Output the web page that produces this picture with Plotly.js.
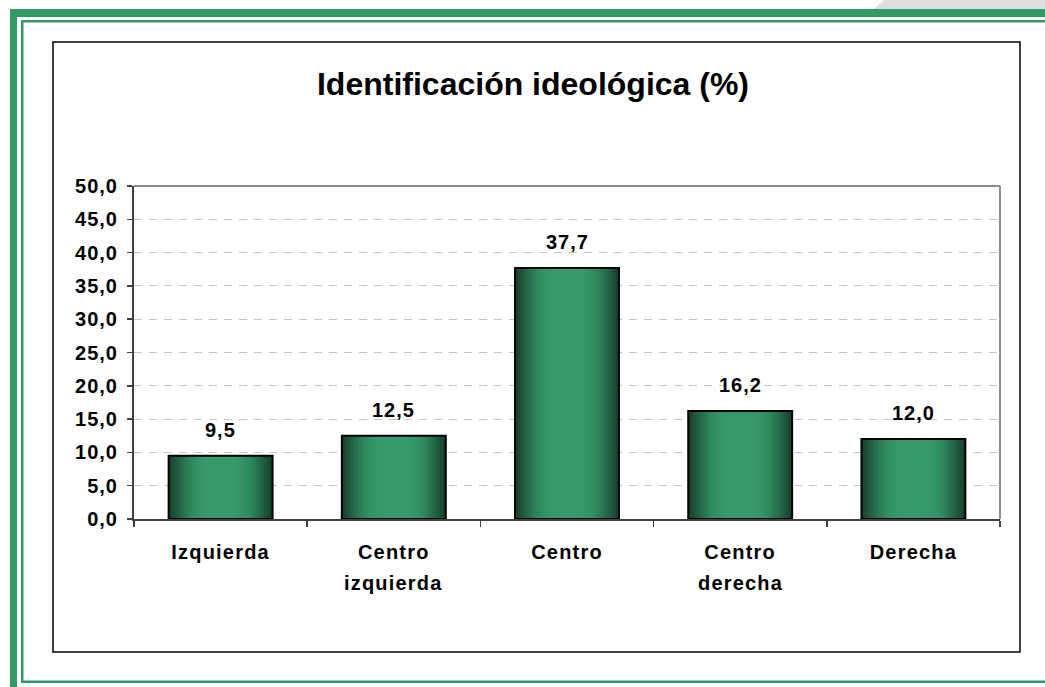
<!DOCTYPE html>
<html>
<head>
<meta charset="utf-8">
<script src="https://cdn.plot.ly/plotly-3.0.1.min.js"></script>
<style>
  html, body { margin: 0; padding: 0; background: #ffffff; }
  #chart { width: 1045px; height: 687px; }
</style>
</head>
<body>
<div id="chart"></div>
<script>
// ---- data ----
const categories = ["Izquierda", "Centro izquierda", "Centro", "Centro derecha", "Derecha"];
const labelLine1 = ["Izquierda", "Centro", "Centro", "Centro", "Derecha"];
const labelLine2 = ["", "izquierda", "", "derecha", ""];
const values = [9.5, 12.5, 37.7, 16.2, 12.0];
const yTickValues = [0, 5, 10, 15, 20, 25, 30, 35, 40, 45, 50];
const chartTitle = "Identificación ideológica (%)";

// ---- geometry helpers (plot area in pixels) ----
const W = 1045, H = 687;
const PL = 134, PR = 1000, PT = 186, PB = 519;
const xp = px => (px - PL) / (PR - PL);
const yp = py => (PB - py) / (PB - PT);

const fmt = v => v.toFixed(1).replace('.', ',');
const sp = (s, ls) => `<span style="letter-spacing:${ls}px">${s}</span>`;
const FONT = 'Liberation Sans, Arial, sans-serif';

// ---- gradient bars built as overlaid layers ----
const BAR_W = 0.6;
const N = 14;
const dark = [24, 66, 45], light = [54, 154, 107];
const traces = [];
for (let i = 0; i < N; i++) {
  const t = i / (N - 1);
  const e = Math.sin(t * Math.PI / 2);
  const c = dark.map((d, k) => Math.round(d + (light[k] - d) * e));
  traces.push({
    type: 'bar', x: categories, y: values,
    width: BAR_W * (1 - 0.72 * t),
    marker: { color: `rgb(${c[0]},${c[1]},${c[2]})`, line: { width: 0 } },
    hoverinfo: 'skip', showlegend: false
  });
}
traces.push({
  type: 'bar', x: categories, y: values, width: BAR_W,
  marker: { color: 'rgba(0,0,0,0)', line: { color: '#000000', width: 2 } },
  hovertemplate: '%{x}: %{y}<extra></extra>', showlegend: false
});

// ---- frame shapes ----
const green = '#339966';
const rectPx = (x0, y0, x1, y1, opts) => Object.assign({
  type: 'rect', xref: 'paper', yref: 'paper',
  x0: xp(x0), x1: xp(x1), y0: yp(y1), y1: yp(y0), layer: 'below'
}, opts);

const shapes = [
  { type: 'path', xref: 'paper', yref: 'paper', layer: 'below',
    path: `M ${xp(874)} ${yp(9)} L ${xp(884)} ${yp(0)} L ${xp(1045)} ${yp(0)} L ${xp(1045)} ${yp(9)} Z`,
    fillcolor: '#dedede', line: { width: 0 } },
  rectPx(10, 9, 1045, 17, { fillcolor: green, line: { width: 0 } }),
  rectPx(10, 9, 17, 687, { fillcolor: green, line: { width: 0 } }),
  rectPx(21, 20, 1045, 22.5, { fillcolor: green, line: { width: 0 } }),
  rectPx(21, 20, 23.5, 683, { fillcolor: green, line: { width: 0 } }),
  rectPx(21, 680.5, 1045, 683, { fillcolor: green, line: { width: 0 } }),
  rectPx(53, 42, 1020, 652, { fillcolor: 'rgba(0,0,0,0)', line: { color: '#000000', width: 1.5 } }),
  { type: 'line', xref: 'paper', yref: 'paper', x0: 0, x1: 1, y0: 1, y1: 1,
    line: { color: '#8c8c8c', width: 2 }, layer: 'below' },
  { type: 'line', xref: 'paper', yref: 'paper', x0: 1, x1: 1, y0: 0, y1: 1,
    line: { color: '#8c8c8c', width: 2 }, layer: 'below' }
];

// ---- value labels ----
const annotations = categories.map((c, i) => ({
  x: c, y: values[i], xref: 'x', yref: 'y',
  text: sp(fmt(values[i]), 1),
  showarrow: false, yanchor: 'middle', yshift: 26,
  font: { family: FONT, size: 20, color: '#000000', weight: 'bold' }
}));
// second line of the category labels
categories.forEach((c, i) => {
  if (!labelLine2[i]) return;
  annotations.push({
    x: c, y: 0, xref: 'x', yref: 'paper',
    text: sp(labelLine2[i], 1.2),
    showarrow: false, yanchor: 'middle', yshift: -64,
    font: { family: FONT, size: 20, color: '#000000', weight: 'bold' }
  });
});

const layout = {
  width: W, height: H,
  margin: { l: PL, r: W - PR, t: PT, b: H - PB, pad: 0 },
  paper_bgcolor: '#ffffff', plot_bgcolor: '#ffffff',
  barmode: 'overlay',
  separators: ',.',
  title: {
    text: chartTitle, xref: 'container', yref: 'container',
    x: 533 / W, y: 1 - 84 / H, xanchor: 'center', yanchor: 'middle',
    font: { family: FONT, size: 32, color: '#000000', weight: 'bold' }
  },
  xaxis: {
    type: 'category', range: [-0.5, 4.5],
    tickmode: 'array', tickvals: categories,
    ticktext: labelLine1.map(s => sp(s, 1.2)),
    tickson: 'boundaries', ticks: 'outside', ticklen: 6, tickwidth: 1.5, tickcolor: '#404040',
    ticklabelstandoff: 14,
    showline: true, linecolor: '#404040', linewidth: 2,
    showgrid: false, zeroline: false,
    tickfont: { family: FONT, size: 20, color: '#000000', weight: 'bold' }
  },
  yaxis: {
    range: [0, 50], tickmode: 'array', tickvals: yTickValues,
    ticktext: yTickValues.map(v => sp(fmt(v), 1)),
    ticks: 'outside', ticklen: 5, tickwidth: 1.5, tickcolor: '#404040',
    ticklabelstandoff: 5,
    showline: true, linecolor: '#404040', linewidth: 2,
    showgrid: true, gridcolor: '#c4c4c4', gridwidth: 1, griddash: '8px,7px',
    zeroline: false,
    tickfont: { family: FONT, size: 20, color: '#000000', weight: 'bold' }
  },
  shapes: shapes,
  annotations: annotations
};

Plotly.newPlot('chart', traces, layout, { displayModeBar: false, staticPlot: true });
</script>
</body>
</html>
